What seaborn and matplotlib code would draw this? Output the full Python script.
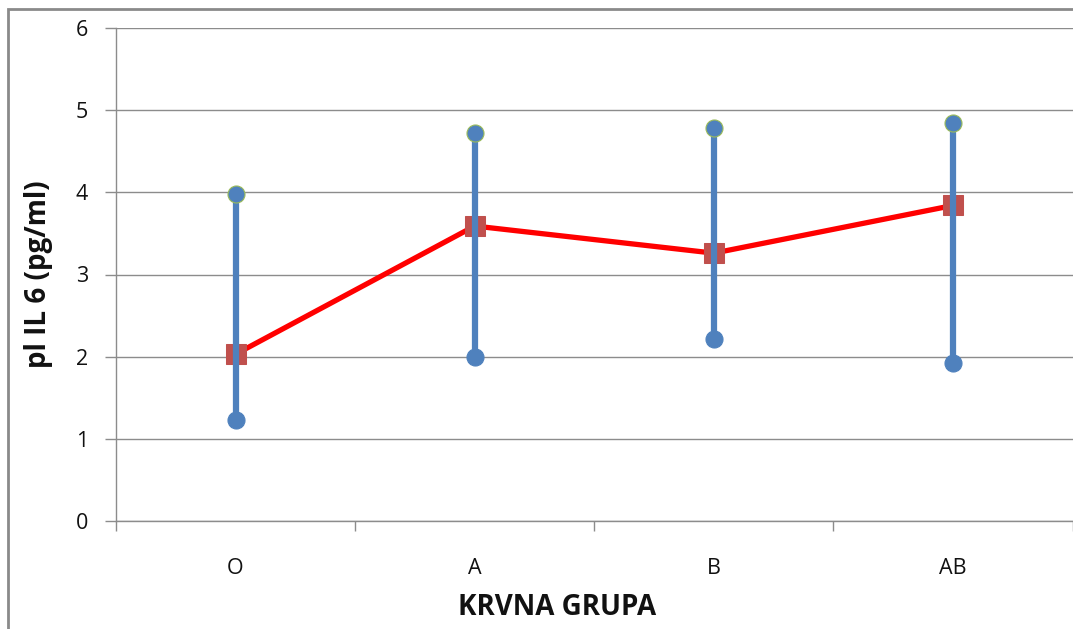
import matplotlib
matplotlib.use("Agg")
import matplotlib.pyplot as plt
from matplotlib.patches import Rectangle
from matplotlib.ticker import FixedLocator
import pandas as pd
import seaborn as sns

# values
groups = ["O", "A", "B", "AB"]
il6_low = [1.23, 1.99, 2.22, 1.92]
il6_high = [3.98, 4.72, 4.78, 4.84]
il6_mean = [2.03, 3.59, 3.26, 3.84]

BLUE = "#4F81BD"
RED = "#FF0000"
SQUARE = "#C0504D"
GRID = "#8C8C8C"

sns.set_theme(style="white")
plt.rcParams["font.family"] = ["Open Sans", "DejaVu Sans"]

range_df = pd.DataFrame({
    "grupa": groups + groups,
    "il6": il6_low + il6_high,
})
mean_df = pd.DataFrame({"grupa": groups, "il6": il6_mean})
low_df = pd.DataFrame({"grupa": groups, "il6": il6_low})
high_df = pd.DataFrame({"grupa": groups, "il6": il6_high})

fig = plt.figure(figsize=(10.73, 6.29), dpi=100)
ax = fig.add_axes([116 / 1073, 1 - 521 / 629, 956.5 / 1073, 493 / 629])

# mean line (under the range bars)
sns.lineplot(data=mean_df, x="grupa", y="il6", color=RED, lw=3.8, sort=False,
             marker="s", markersize=14, markerfacecolor=SQUARE,
             markeredgecolor=SQUARE, ax=ax, zorder=3)
# min-max range
sns.lineplot(data=range_df, x="grupa", y="il6", units="grupa", estimator=None,
             color=BLUE, lw=4.5, ax=ax, zorder=4)
sns.scatterplot(data=low_df, x="grupa", y="il6", color=BLUE, s=150,
                edgecolor=BLUE, linewidth=0.8, ax=ax, zorder=5)
sns.scatterplot(data=high_df, x="grupa", y="il6", color=BLUE, s=150,
                edgecolor="#9BBB59", linewidth=0.8, ax=ax, zorder=5)

ax.set_xlim(-0.5, len(groups) - 0.5)
ax.set_ylim(0, 6)
ax.set_yticks(range(0, 7))
ax.yaxis.grid(True, color=GRID, lw=1)
ax.xaxis.grid(False)

# category ticks sit between groups, labels under the centres
ax.xaxis.set_major_locator(FixedLocator([i - 0.5 for i in range(len(groups) + 1)]))
ax.xaxis.set_minor_locator(FixedLocator(list(range(len(groups)))))
ax.set_xticklabels([], minor=False)
ax.set_xticklabels(groups, minor=True)
ax.tick_params(axis="x", which="major", direction="out", length=7, width=1,
               color=GRID, bottom=True)
ax.tick_params(axis="x", which="minor", length=0, pad=27, labelsize=15.5,
               labelcolor="#111111")
ax.tick_params(axis="y", direction="out", length=8, width=1, color=GRID,
               left=True, pad=12, labelsize=15.5, labelcolor="#111111")

for side in ["top", "right"]:
    ax.spines[side].set_visible(False)
for side in ["left", "bottom"]:
    ax.spines[side].set_color(GRID)
    ax.spines[side].set_linewidth(1)

ax.set_xlabel("KRVNA GRUPA", fontsize=20, fontweight="bold", color="#111111")
ax.xaxis.set_label_coords((557 - 116) / 956.5, -0.147)
ax.set_ylabel("pl IL 6 (pg/ml)", fontsize=20, fontweight="bold", color="#111111")
ax.yaxis.set_label_coords(-0.066, 0.5)

# outer chart frame
fig.patches.append(Rectangle((7.5 / 1073, -0.1), 1.2, 1.1 - 9.5 / 629,
                             transform=fig.transFigure, fill=False,
                             edgecolor="#8A8A8A", lw=2, zorder=0))

fig.savefig("out.png", dpi=100)
